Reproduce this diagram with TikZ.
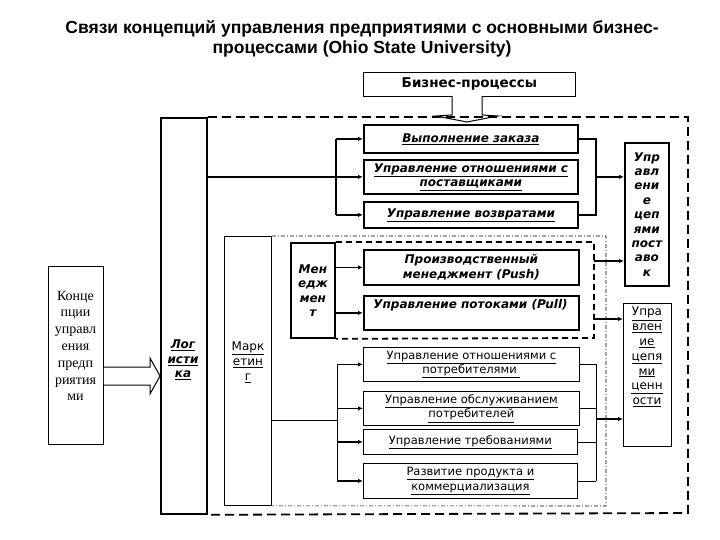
\documentclass[tikz,border=0pt]{standalone}
\usepackage{fontspec}
\setmainfont{DejaVu Sans}
\setsansfont{DejaVu Sans}
\newfontfamily\titlefont{Liberation Sans}
\newfontfamily\conceptfont{Liberation Serif}
\usepackage{tikz}
\usetikzlibrary{arrows.meta}

\newcommand\undl[1]{\underline{#1}}

\begin{document}
\begin{tikzpicture}[x=1pt, y=-1pt,
    heavybox/.style={draw, line width=1.8pt, inner sep=0pt, anchor=north west, align=center,
        font=\fontsize{12}{14.4}\selectfont\bfseries\itshape},
    lightbox/.style={draw, line width=0.8pt, inner sep=0pt, anchor=north west, align=center,
        font=\fontsize{11.5}{14.5}\selectfont},
    boldlink/.style={line width=1.6pt},
    boldarrow/.style={-{Latex[length=5pt,width=4.5pt]}, line width=1.6pt},
    lightlink/.style={line width=0.8pt},
    bigdash/.style={line width=1.8pt, dash pattern=on 9pt off 5pt},
    hollow/.style={draw, line width=1pt, fill=white}]

    \useasboundingbox (0,0) rectangle (720,540);

    % title
    \node[font=\titlefont\fontsize{17.5}{20}\selectfont\bfseries, align=center] (title) at (362,39)
        {Связи концепций управления предприятиями с основными бизнес-\\процессами (Ohio State University)};

    \node[lightbox, minimum width=212, minimum height=24, font=\fontsize{13.5}{15}\selectfont\bfseries] (biz) at (363,72) {Бизнес-процессы};

    % hollow arrows
    \draw[hollow] (452,96) -- (452,115) -- (436,116) -- (467,122) -- (498,116) -- (482,115) -- (482,96);

    % columns on the left
    \node[draw, line width=0.8pt, minimum width=55, minimum height=178, anchor=north west] (concept) at (48,266) {};
    \node[font=\conceptfont\fontsize{14}{16.8}\selectfont, align=center] (concepttxt) at (75.5,346)
        {Конце\\пции\\управл\\ения\\предп\\риятия\\ми};
    \draw[hollow] (concept.east |- 0,367) -- (150,367) -- (150,358) -- (160,376) -- (150,394) -- (150,385) -- (concept.east |- 0,385);

    \node[draw, line width=1.8pt, minimum width=46, minimum height=396, anchor=north west] (logist) at (160,117) {};
    \node[font=\fontsize{12}{14.5}\selectfont\bfseries\itshape, align=center] (logisttxt) at (183,360)
        {\undl{Лог}\\\undl{исти}\\\undl{ка}};

    \node[draw, line width=0.8pt, minimum width=47, minimum height=269, anchor=north west] (mark) at (224,236) {};
    \node[font=\fontsize{12}{15}\selectfont, align=center] (marktxt) at (248,362)
        {\undl{Марк}\\\undl{етин}\\\undl{г}};

    % logistics boxes
    \node[heavybox, minimum width=214, minimum height=28] (order) at (363,124) {\undl{Выполнение заказа}};
    \node[heavybox, minimum width=214, minimum height=34] (supp) at (363,159)
        {\undl{Управление отношениями с}\\\undl{поставщиками}};
    \node[heavybox, minimum width=214, minimum height=26] (ret) at (363,201) {\undl{Управление возвратами}};

    \node[heavybox, minimum width=44, minimum height=143] (scm) at (624,142)
        {Упр\\авл\\ени\\е\\цеп\\ями\\пост\\аво\\к};

    % management
    \node[heavybox, minimum width=44, minimum height=95, font=\fontsize{12}{14.5}\selectfont\bfseries\itshape] (mgmt) at (290,242) {Мен\\едж\\мен\\т};
    \node[heavybox, minimum width=215, minimum height=35] (push) at (363,249)
        {Производственный\\менеджмент (Push)};
    \node[heavybox, minimum width=215, minimum height=34] (pull) at (363,295) {};
    \node[font=\fontsize{12}{14.4}\selectfont\bfseries\itshape] (pulltxt) at (470.5,305) {Управление потоками (Pull)};

    % marketing boxes
    \node[lightbox, minimum width=216, minimum height=34] (crm) at (363,347)
        {\undl{Управление отношениями с}\\\undl{потребителями }};
    \node[lightbox, minimum width=216, minimum height=34] (serv) at (363,391)
        {\undl{Управление обслуживанием}\\\undl{потребителей}};
    \node[lightbox, minimum width=214, minimum height=25] (dem) at (363,429) {\undl{Управление требованиями}};
    \node[lightbox, minimum width=214, minimum height=35] (dev) at (363,463)
        {\undl{Развитие продукта и}\\\undl{коммерциализация}};

    \node[draw, line width=0.8pt, minimum width=48, minimum height=143, anchor=north west] (vc) at (623,303) {};
    \node[font=\fontsize{12}{14.8}\selectfont, align=center] (vctxt) at (647,357)
        {\undl{Упра}\\\undl{влен}\\\undl{ие}\\\undl{цепя}\\\undl{ми}\\\undl{ценн}\\\undl{ости}};

    % frames
    \draw[bigdash] (logist.north east) -- (688,117) -- (688,513) -- (logist.south east);
    \draw[line width=1.8pt, dash pattern=on 6pt off 4pt] (mgmt.north east) -- (594,242) -- (594,338) -- (mgmt.south east);
    \draw[line width=0.6pt, dash pattern=on 4pt off 2pt on 1pt off 2pt] (mark.north east) -- (606,236) -- (606,506) -- (mark.south east);

    % logistics links
    \coordinate (lbx) at (336,0);
    \coordinate (rbx) at (596,0);
    \draw[boldlink] (lbx |- order) -- (lbx |- ret);
    \draw[boldarrow] (lbx |- order) -- (order.west);
    \draw[boldarrow] (lbx |- ret) -- (ret.west);
    \draw[boldarrow] (logist.east |- supp) -- (supp.west);
    \draw[boldlink] (order.east) -- (rbx |- order) -- (rbx |- ret) -- (ret.east);
    \draw[boldarrow] (rbx |- supp) -- (scm.west |- supp);

    % management links
    \draw[boldarrow] (mgmt.east |- push) -- (push.west);
    \draw[boldarrow] (mgmt.east |- pull) -- (pull.west);
    \coordinate (pushout) at (594,261);
    \coordinate (pullout) at (594,319);
    \draw[boldarrow] (pushout) -- (pushout -| scm.west);
    \draw[boldarrow] (pullout) -- (pullout -| vc.west);

    % marketing links
    \coordinate (mk) at (271,420);
    \coordinate (mbx) at (337,0);
    \coordinate (vbx) at (596,0);
    \draw[lightlink] (mk) -- (mbx |- mk);
    \draw[lightlink] (mbx |- crm) -- (mbx |- dev);
    \foreach \b in {crm,serv,dem,dev}
        \draw[boldarrow, line width=1.2pt] (mbx |- \b) -- (\b.west);
    \foreach \b in {crm,serv,dem,dev}
        \draw[lightlink] (\b.east) -- (vbx |- \b);
    \draw[lightlink] (vbx |- crm) -- (vbx |- dev);
    \coordinate (vcin) at (596,419);
    \draw[boldarrow, line width=1.2pt] (vcin) -- (vcin -| vc.west);
\end{tikzpicture}
\end{document}
